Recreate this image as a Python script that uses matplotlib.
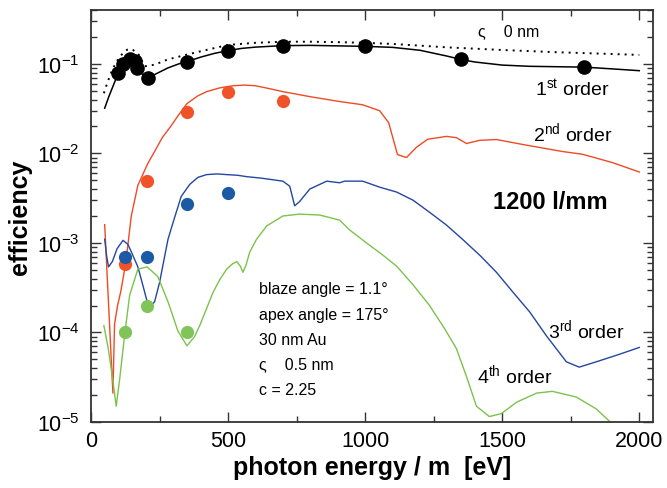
import matplotlib
matplotlib.use("Agg")
import matplotlib.pyplot as plt
import matplotlib.ticker as mticker

plt.rcParams['font.family'] = ['Liberation Sans', 'DejaVu Sans']
plt.rcParams['mathtext.fontset'] = 'custom'
plt.rcParams['mathtext.rm'] = 'Liberation Sans'
plt.rcParams['mathtext.it'] = 'Liberation Sans:italic'
plt.rcParams['mathtext.bf'] = 'Liberation Sans:bold'

# sigma = 0 nm (dotted)
x0 = [47, 60, 75, 90, 105, 120, 132, 141, 155, 174, 196, 232, 280, 350, 420, 500, 600,
      700, 800, 900, 1000, 1100, 1200, 1300, 1400, 1500, 1600, 1700, 1800, 1900, 2000]
y0 = [0.047, 0.062, 0.082, 0.102, 0.120, 0.135, 0.144, 0.147, 0.142, 0.127, 0.094, 0.098,
      0.112, 0.127, 0.143, 0.163, 0.172, 0.177, 0.177, 0.175, 0.172, 0.167, 0.160, 0.153,
      0.148, 0.143, 0.139, 0.135, 0.132, 0.129, 0.126]

# 1st order
x1 = [50, 65, 80, 98, 117, 141, 159, 169, 185, 208, 232, 280, 320, 350, 400, 450,
      500, 550, 600, 700, 800, 900, 1000, 1100, 1200, 1300, 1350, 1400, 1500, 1600, 1700,
      1800, 1900, 2000]
y1 = [0.032, 0.043, 0.056, 0.077, 0.098, 0.112, 0.106, 0.090, 0.078, 0.070,
      0.076, 0.090, 0.100, 0.106, 0.119, 0.131, 0.141, 0.149, 0.154, 0.160, 0.161, 0.159,
      0.157, 0.153, 0.142, 0.122, 0.112, 0.105, 0.097, 0.094, 0.093, 0.092, 0.088, 0.084]

# 2nd order
x2 = [50, 58, 66, 74, 80, 86, 97, 109, 127, 147, 171, 208, 232, 260, 293, 320,
      350, 390, 422, 470, 518, 560, 600, 650, 700, 800, 907, 990, 1053, 1086, 1118, 1151,
      1187, 1228, 1297, 1333, 1370, 1417, 1479, 1574, 1720, 1792, 1902, 2000]
y2 = [1.6e-3, 5e-4, 1.6e-4, 4.9e-5, 2.1e-5, 1.24e-4, 2e-4, 2.9e-4, 6e-4, 2e-3, 4.4e-3,
      7.8e-3, 1.05e-2, 1.5e-2, 2.05e-2, 2.7e-2, 3.6e-2, 4.4e-2, 4.9e-2,
      5.4e-2, 5.7e-2, 5.8e-2, 5.7e-2, 5.3e-2, 4.9e-2, 4.3e-2, 3.8e-2, 3.5e-2, 3.0e-2,
      2.2e-2, 9.7e-3, 9.0e-3, 1.17e-2, 1.44e-2, 1.55e-2, 1.5e-2, 1.29e-2, 1.4e-2, 1.43e-2,
      1.26e-2, 1.05e-2, 9.8e-3, 7.9e-3, 6.2e-3]

# 3rd order
x3 = [50, 57, 64, 78, 95, 117, 135, 150, 171, 190, 205, 220, 232, 250, 268, 281, 297,
      313, 329, 360, 390, 422, 460, 495, 535, 568, 620, 700, 725, 743, 761, 798, 860, 907,
      925, 991, 1053, 1115, 1175, 1235, 1295, 1355, 1420, 1479, 1540, 1600, 1661, 1734,
      1781, 1843, 1927, 2000]
y3 = [1.1e-3, 7.2e-4, 5.4e-4, 6.2e-4, 8.6e-4, 1.07e-3, 9.6e-4, 7.6e-4, 5.4e-4, 3.3e-4,
      2.2e-4, 2e-4, 2.2e-4, 3.6e-4, 6.9e-4, 1.1e-3, 1.6e-3, 2.3e-3, 3.3e-3, 4.5e-3,
      5.4e-3, 5.8e-3, 5.9e-3, 5.8e-3, 5.7e-3, 5.5e-3, 5.3e-3, 4.9e-3, 4.3e-3, 2.6e-3,
      2.9e-3, 4.0e-3, 4.9e-3, 4.7e-3, 4.9e-3, 4.9e-3, 4.2e-3, 3.7e-3, 3.0e-3, 2.2e-3,
      1.6e-3, 1.1e-3, 7.2e-4, 4.7e-4, 2.8e-4, 1.7e-4, 9.2e-5, 4.7e-5, 4.1e-5, 4.7e-5,
      5.7e-5, 6.8e-5]

# 4th order
x4 = [47, 62, 80, 92, 104, 123, 141, 171, 205, 244, 281, 317, 350, 378, 397, 420, 445,
      470, 495, 515, 532, 545, 554, 565, 579, 604, 641, 700, 761, 834, 907, 943, 1005, 1060,
      1115, 1175, 1235, 1290, 1333, 1370, 1406, 1453, 1497, 1552, 1625, 1683, 1770, 1843,
      1894]
y4 = [1.19e-4, 6.9e-5, 2.9e-5, 1.5e-5, 2.9e-5, 9.5e-5, 2.6e-4, 5.1e-4, 5.4e-4, 4.2e-4,
      2.2e-4, 1.04e-4, 7.1e-5, 9e-5, 1.2e-4, 1.8e-4, 2.8e-4, 3.9e-4, 5.1e-4, 5.8e-4, 6.2e-4,
      5.5e-4, 4.7e-4, 5.6e-4, 7.9e-4, 1.1e-3, 1.55e-3, 2.0e-3, 2.1e-3, 2.05e-3, 1.8e-3,
      1.4e-3, 1.0e-3, 7.5e-4, 5.5e-4, 3.4e-4, 2.0e-4, 1.1e-4, 6.6e-5, 3.2e-5, 1.5e-5,
      1.15e-5, 1.24e-5, 1.66e-5, 2.1e-5, 2.2e-5, 1.9e-5, 1.4e-5, 1.0e-5]

# measured points
mx1 = [98, 117, 141, 159, 169, 208, 350, 500, 700, 1000, 1350, 1800]
my1 = [0.079, 0.100, 0.112, 0.107, 0.090, 0.070, 0.106, 0.141, 0.160, 0.157, 0.112, 0.093]
mx2 = [125, 205, 350, 500, 700]
my2 = [5.8e-4, 4.9e-3, 2.9e-2, 4.8e-2, 3.9e-2]
mx3 = [125, 205, 350, 500]
my3 = [6.9e-4, 6.9e-4, 2.75e-3, 3.6e-3]
mx4 = [125, 205, 350]
my4 = [1e-4, 2e-4, 1e-4]

c_red = '#ee4a25'
c_blue = '#2446a0'
c_green = '#7cc24c'
d_red = '#f0532a'
d_blue = '#1c5aa6'
d_green = '#80c45a'

fig = plt.figure(figsize=(6.67, 4.89), dpi=100)
ax = fig.add_axes([0.1364, 0.135, 0.8426, 0.8425])

ax.plot(x0, y0, color='black', lw=1.4, linestyle=(0, (1, 2.6)))
ax.plot(x1, y1, color='black', lw=1.1)
ax.plot(x2, y2, color=c_red, lw=1.0)
ax.plot(x3, y3, color=c_blue, lw=1.0)
ax.plot(x4, y4, color=c_green, lw=1.0)

ms = 9.5
ax.plot(mx1, my1, 'o', color='black', ms=ms, zorder=5)
ax.plot(mx2, my2, 'o', color=d_red, ms=ms, mec='none', zorder=5)
ax.plot(mx3, my3, 'o', color=d_blue, ms=ms, mec='none', zorder=5)
ax.plot(mx4, my4, 'o', color=d_green, ms=ms, mec='none', zorder=5)

ax.set_yscale('log')
ax.set_xlim(0, 2050)
ax.set_ylim(1e-5, 0.4)
ax.xaxis.set_major_locator(mticker.MultipleLocator(500))
ax.xaxis.set_minor_locator(mticker.MultipleLocator(250))
ax.yaxis.set_major_locator(mticker.LogLocator(base=10, numticks=10))
ax.yaxis.set_minor_locator(mticker.LogLocator(base=10, subs=range(2, 10), numticks=20))
ax.yaxis.set_minor_formatter(mticker.NullFormatter())

ax.tick_params(which='both', direction='in', top=True, right=True, width=1.0,
               color='#333333', labelsize=15.5)
ax.tick_params(which='major', length=7)
ax.tick_params(which='minor', length=4)
ax.tick_params(axis='x', pad=6)
ax.tick_params(axis='y', pad=8)
for s in ax.spines.values():
    s.set_linewidth(1.3)
    s.set_color('#333333')

ax.set_xlabel('photon energy / m  [eV]', fontsize=18, fontweight='bold', labelpad=3)
ax.set_ylabel('efficiency', fontsize=18, fontweight='bold', labelpad=4)

ax.text(0.790, 0.811, r'1$^{\rm st}$ order', transform=ax.transAxes, fontsize=14, va='center')
ax.text(0.786, 0.704, r'2$^{\rm nd}$ order', transform=ax.transAxes, fontsize=14, va='center')
ax.text(0.813, 0.226, r'3$^{\rm rd}$ order', transform=ax.transAxes, fontsize=14, va='center')
ax.text(0.687, 0.117, r'4$^{\rm th}$ order', transform=ax.transAxes, fontsize=14, va='center')
ax.text(0.715, 0.536, '1200 l/mm', transform=ax.transAxes, fontsize=17, fontweight='bold',
        va='center')
ax.text(0.689, 0.95, 'ς    0 nm', transform=ax.transAxes, fontsize=11.5, va='center')

notes = ['blaze angle = 1.1°', 'apex angle = 175°', '30 nm Au', 'ς    0.5 nm', 'c = 2.25']
note_y = [0.323, 0.262, 0.201, 0.141, 0.080]
for t, yy in zip(notes, note_y):
    ax.text(0.299, yy, t, transform=ax.transAxes, fontsize=11.5, va='center')

fig.savefig('out.png', dpi=100)
